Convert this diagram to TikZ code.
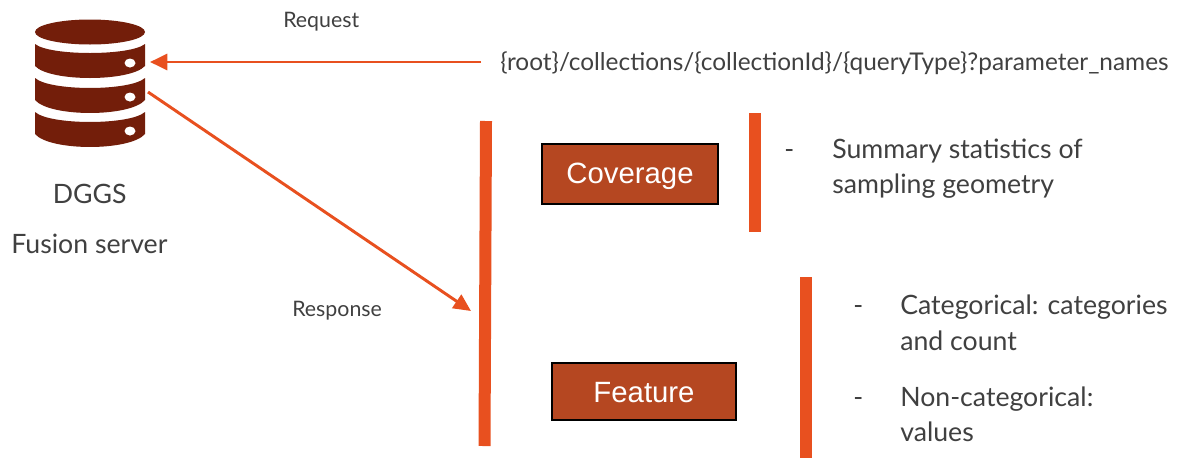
\documentclass[tikz,border=0pt]{standalone}
\usepackage{fontspec}
\setmainfont{Lato}
\newfontfamily\boxfont{Liberation Sans}
\usetikzlibrary{arrows.meta}
\definecolor{dbred}{HTML}{731E0A}
\definecolor{barorange}{HTML}{E8501F}
\definecolor{boxfill}{HTML}{B54721}
\definecolor{inktext}{HTML}{404040}
\tikzset{
  x=0.75pt,y=-0.75pt,
  lbl/.style={inner sep=0pt,anchor=base west,text=inktext,font=\fontsize{20}{20}\selectfont},
  urllbl/.style={inner sep=0pt,anchor=base west,text=inktext,font=\fontsize{18.3}{20}\selectfont},
  smalllbl/.style={inner sep=0pt,anchor=base west,text=inktext,font=\fontsize{16}{16}\selectfont},
  typebox/.style={draw=black,line width=1.6pt,fill=boxfill,text=white,inner sep=0pt,font=\boxfont\fontsize{22}{22}\selectfont},
  bar/.style={draw=barorange,line width=9pt},
  conn/.style={draw=barorange,line width=2.2pt,-{Triangle[length=13pt,width=12pt]}},
  disk/.style={fill=dbred,draw=none},
  hole/.style={fill=white,draw=none},
}
\begin{document}
\begin{tikzpicture}
\useasboundingbox (0,0) rectangle (1181,458);
% database icon
\fill[disk] (90,32) ellipse [x radius=55,y radius=12.5];
\fill[disk] (35,44) .. controls (50,56) and (130,56) .. (145,44) -- (145,66) .. controls (130,82) and (50,82) .. (35,66) -- cycle;
\fill[disk] (35,78) .. controls (50,91.3) and (130,91.3) .. (145,78) -- (145,100) .. controls (130,117.3) and (50,117.3) .. (35,100) -- cycle;
\fill[disk] (35,112) .. controls (50,125.3) and (130,125.3) .. (145,112) -- (145,134) .. controls (130,151.3) and (50,151.3) .. (35,134) -- cycle;
\fill[hole] (130,63) ellipse [x radius=5.5,y radius=4.5];
\fill[hole] (130,97) ellipse [x radius=5.5,y radius=4.5];
\fill[hole] (130,131) ellipse [x radius=5.5,y radius=4.5];
\coordinate (dbin) at (150,62);
\coordinate (dbout) at (148,92);
% labels
\node[lbl] (dggs) at (52.5,203) {DGGS};
\node[lbl] (fusion) at (11,253.5) {Fusion server};
\node[smalllbl] (request) at (283,27) {Request};
\node[smalllbl] (response) at (292,316) {Response};
\node[urllbl] (url) at (500,70) {\{root\}/collections/\{collectionId\}/\{queryType\}?parameter\_names};
% bars
\coordinate (b1t) at (486,121); \coordinate (b1b) at (484.5,446);
\coordinate (b2t) at (755,113); \coordinate (b2b) at (755,232);
\coordinate (b3t) at (806,277); \coordinate (b3b) at (806,458);
\draw[bar] (b1t) -- (b1b);
\draw[bar] (b2t) -- (b2b);
\draw[bar] (b3t) -- (b3b);
% connectors
\coordinate (reqstart) at (481,62);
\coordinate (resend) at (471,311);
\draw[conn] (reqstart) -- (dbin);
\draw[conn] (dbout) -- (resend);
% boxes
\node[typebox,minimum width=132.5pt,minimum height=45pt] (coverage) at (630,174) {\raisebox{-1.5pt}[\height][\depth]{Coverage}};
\node[typebox,minimum width=138.5pt,minimum height=43pt] (feature) at (644,391.5) {\raisebox{-0.6pt}[\height][\depth]{Feature}};
% text
\node[lbl] (d1) at (784,158) {-};
\node[lbl] (s1) at (832,158) {Summary statistics of};
\node[lbl] (s2) at (832,193) {sampling geometry};
\node[lbl] (d2) at (853,314.5) {-};
\node[lbl] (c1) at (900,314.5) {Categorical: categories};
\node[lbl] (c2) at (900,350) {and count};
\node[lbl] (d3) at (853,406) {-};
\node[lbl] (n1) at (900,406) {Non-categorical:};
\node[lbl] (n2) at (900,441) {values};
\end{tikzpicture}
\end{document}
